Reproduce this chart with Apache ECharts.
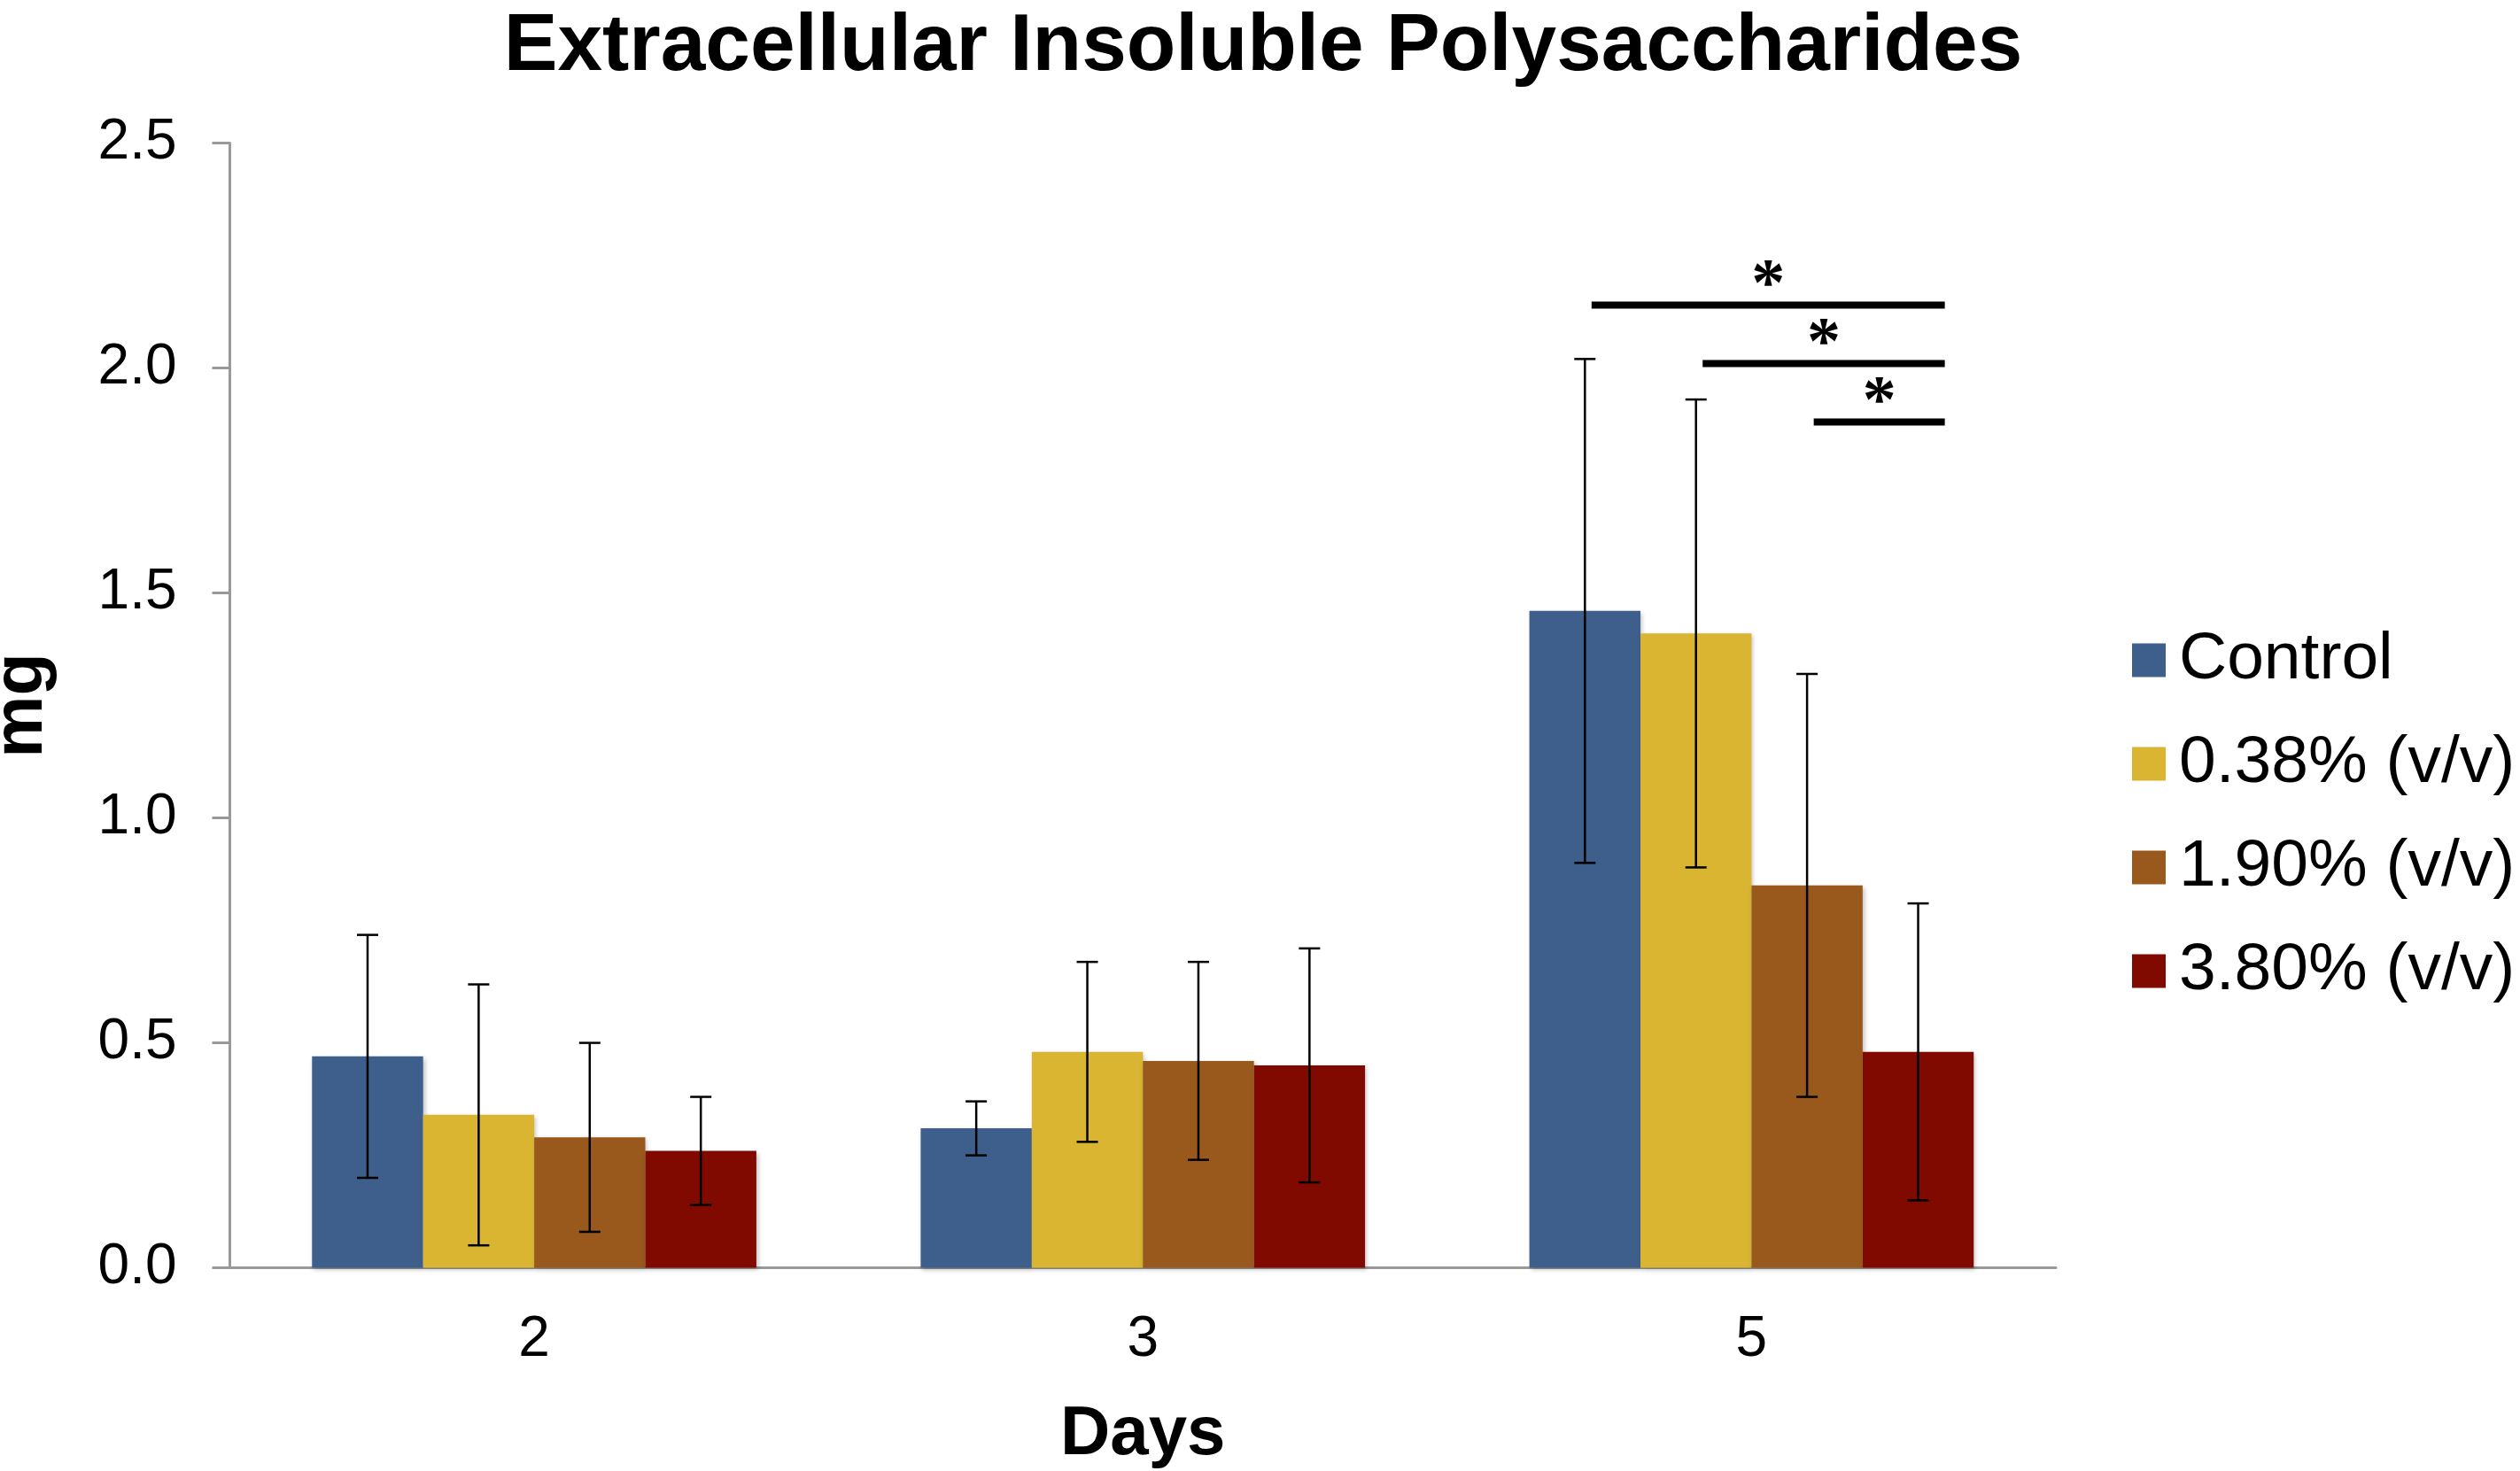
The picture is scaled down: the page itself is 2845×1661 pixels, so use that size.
<!DOCTYPE html>
<html>
<head>
<meta charset="utf-8">
<title>Extracellular Insoluble Polysaccharides</title>
<script src="https://cdn.jsdelivr.net/npm/echarts@6/dist/echarts.min.js"></script>
<style>
    html, body { margin: 0; padding: 0; background: #fff; }
    #chart { width: 2845px; height: 1661px; }
</style>
</head>
<body>
<div id="chart"></div>
<script>
// data (mg, mean and error)
var days = ['2', '3', '5'];
var groups = ['Control', '0.38% (v/v)', '1.90% (v/v)', '3.80% (v/v)'];
var meanControl = [0.47, 0.31, 1.46];
var mean038 = [0.34, 0.48, 1.41];
var mean190 = [0.29, 0.46, 0.85];
var mean380 = [0.26, 0.45, 0.48];
var errControl = [0.27, 0.06, 0.56];
var err038 = [0.29, 0.20, 0.52];
var err190 = [0.21, 0.22, 0.47];
var err380 = [0.12, 0.26, 0.33];
var yTicks = [0, 0.5, 1.0, 1.5, 2.0, 2.5];

// significance brackets on day 5: from group, to group, height
var sigDay = [2, 2, 2];
var sigFrom = [0, 1, 2];
var sigTo = [3, 3, 3];
var sigHeight = [2.14, 2.01, 1.88];
var sigMark = ['*', '*', '*'];

var colors = ['#3e5f8c', '#d9b532', '#99591c', '#800a00'];
var means = [meanControl, mean038, mean190, mean380];
var errs = [errControl, err038, err190, err380];
var catGap = 0.27;

var chart = echarts.init(document.getElementById('chart'));

function barOffset(api, k) {
    var band = api.size([1, 0])[0];
    var bw = band * (1 - catGap) / groups.length;
    return (k - (groups.length - 1) / 2) * bw;
}

function errorRender(k) {
    return function (params, api) {
        var cat = api.value(0);
        var lo = api.coord([cat, api.value(1)]);
        var hi = api.coord([cat, api.value(2)]);
        var x = lo[0] + barOffset(api, k);
        var cap = 12;
        var st = { stroke: '#000', lineWidth: 2.5 };
        return {
            type: 'group',
            children: [
                { type: 'line', shape: { x1: x, y1: hi[1], x2: x, y2: lo[1] }, style: st },
                { type: 'line', shape: { x1: x - cap, y1: hi[1], x2: x + cap, y2: hi[1] }, style: st },
                { type: 'line', shape: { x1: x - cap, y1: lo[1], x2: x + cap, y2: lo[1] }, style: st }
            ]
        };
    };
}

var series = [];
groups.forEach(function (g, k) {
    series.push({
        name: g,
        type: 'bar',
        data: means[k],
        barGap: '0%',
        barCategoryGap: (catGap * 100) + '%',
        itemStyle: {
            color: colors[k],
            shadowColor: 'rgba(0,0,0,0.25)',
            shadowBlur: 5,
            shadowOffsetX: 2,
            shadowOffsetY: 2
        },
        z: 2
    });
});
groups.forEach(function (g, k) {
    series.push({
        type: 'custom',
        renderItem: errorRender(k),
        data: means[k].map(function (m, i) {
            return [i, m - errs[k][i], m + errs[k][i]];
        }),
        encode: { x: 0, y: [1, 2] },
        silent: true,
        z: 5
    });
});
series.push({
    type: 'custom',
    renderItem: function (params, api) {
        var cat = api.value(0);
        var p = api.coord([cat, api.value(3)]);
        var band = api.size([1, 0])[0];
        var bw = band * (1 - catGap) / groups.length;
        var x1 = p[0] + barOffset(api, api.value(1)) + bw * 0.06;
        var x2 = p[0] + barOffset(api, api.value(2)) + bw * 0.24;
        return {
            type: 'group',
            children: [
                { type: 'rect', shape: { x: x1, y: p[1] - 4, width: x2 - x1, height: 8 }, style: { fill: '#000' } },
                {
                    type: 'text',
                    x: (x1 + x2) / 2,
                    y: p[1] - 20,
                    style: {
                        text: sigMark[params.dataIndex],
                        fill: '#000',
                        font: 'bold 76px "Liberation Serif"',
                        align: 'center',
                        verticalAlign: 'middle'
                    }
                }
            ]
        };
    },
    data: sigDay.map(function (d, i) {
        return [d, sigFrom[i], sigTo[i], sigHeight[i]];
    }),
    encode: { x: 0, y: 3 },
    silent: true,
    z: 6
});

chart.setOption({
    animation: false,
    backgroundColor: '#fff',
    title: {
        text: 'Extracellular Insoluble Polysaccharides',
        left: 1421,
        textAlign: 'center',
        top: 3,
        textStyle: { fontFamily: 'Liberation Sans', fontWeight: 'bold', fontSize: 91, color: '#000' }
    },
    legend: {
        data: groups,
        orient: 'vertical',
        left: 2402,
        top: 703,
        itemWidth: 38,
        itemHeight: 38,
        itemGap: 42,
        icon: 'rect',
        selectedMode: false,
        textStyle: {
            fontFamily: 'Liberation Sans',
            fontSize: 75,
            lineHeight: 74,
            color: '#000',
            padding: [0, 0, 0, 10]
        }
    },
    grid: { left: 259.5, right: 524, top: 161.5, bottom: 229.4, outerBoundsMode: 'none' },
    xAxis: {
        type: 'category',
        data: days,
        name: 'Days',
        nameLocation: 'middle',
        nameGap: 150,
        nameTextStyle: { fontFamily: 'Liberation Sans', fontWeight: 'bold', fontSize: 78, color: '#000' },
        axisLine: { lineStyle: { color: '#999', width: 3 } },
        axisTick: { length: 20, lineStyle: { color: '#999', width: 3 } },
        axisLabel: { fontFamily: 'Liberation Sans', fontSize: 64, color: '#000', margin: 50 }
    },
    yAxis: {
        type: 'value',
        min: yTicks[0],
        max: yTicks[yTicks.length - 1],
        interval: 0.5,
        name: 'mg',
        nameLocation: 'middle',
        nameGap: 195,
        nameTextStyle: { fontFamily: 'Liberation Sans', fontWeight: 'bold', fontSize: 79, color: '#000' },
        splitLine: { show: false },
        axisLine: { show: true, lineStyle: { color: '#999', width: 3 } },
        axisTick: { show: true, length: 20, lineStyle: { color: '#999', width: 3 } },
        axisLabel: {
            fontFamily: 'Liberation Sans', fontSize: 64, color: '#000', margin: 60,
            formatter: function (v) { return v.toFixed(1); }
        }
    },
    series: series
});
</script>
</body>
</html>
